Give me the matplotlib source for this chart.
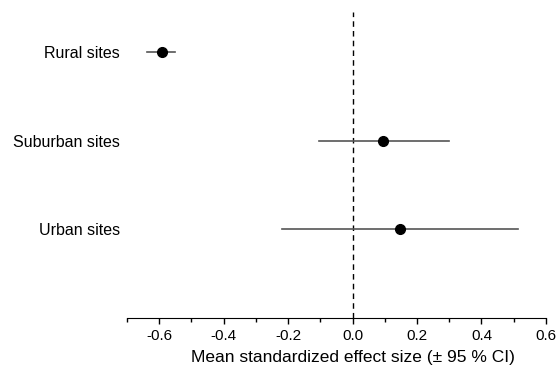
import matplotlib
matplotlib.use("Agg")
import matplotlib.pyplot as plt
from matplotlib.ticker import MultipleLocator

# effect sizes
sites = ["Rural sites", "Suburban sites", "Urban sites"]
means = [-0.592, 0.096, 0.146]
ci_low = [-0.636, -0.105, -0.220]
ci_high = [-0.549, 0.298, 0.512]
ypos = [3, 2, 1]

plt.rcParams["font.family"] = ["Liberation Sans", "DejaVu Sans"]

fig = plt.figure(figsize=(5.56, 3.65), dpi=100)
ax = fig.add_axes([0.228, 0.129, 0.754, 0.838])

ax.axvline(0, color="black", lw=1, ls=(0, (4, 3)), zorder=1)
for y, m, lo, hi in zip(ypos, means, ci_low, ci_high):
    ax.plot([lo, hi], [y, y], color="#555555", lw=1.2, zorder=2)
    ax.plot(m, y, "o", color="black", ms=7, zorder=3)

ax.set_xlim(-0.7, 0.6)
ax.set_ylim(0, 3.45)
ax.xaxis.set_major_locator(MultipleLocator(0.2))
ax.xaxis.set_minor_locator(MultipleLocator(0.1))
ax.set_xticklabels([f"{t:.1f}" for t in ax.get_xticks()])
ax.tick_params(axis="x", which="major", length=4, width=1, labelsize=11, pad=4)
ax.tick_params(axis="x", which="minor", length=3, width=1)
ax.set_yticks(ypos)
ax.set_yticklabels(sites, fontsize=11.5)
ax.tick_params(axis="y", length=0, pad=5)
for s in ["top", "right", "left"]:
    ax.spines[s].set_visible(False)
ax.set_xlabel("Mean standardized effect size (± 95 % CI)", fontsize=12.5)
# label is centred on zero rather than on the axis
ax.xaxis.set_label_coords(0.539, -0.105)

fig.savefig("out.png", dpi=100)
